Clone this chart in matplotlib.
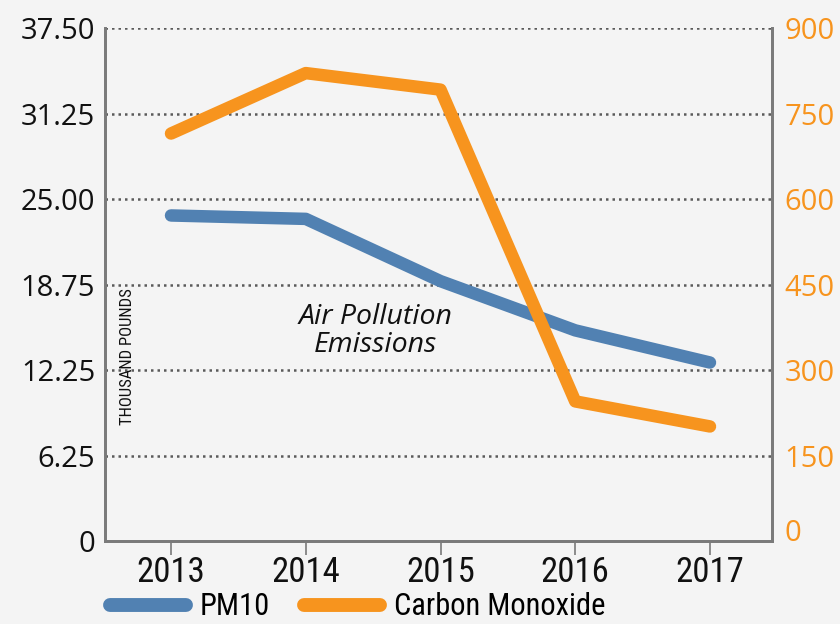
import matplotlib
matplotlib.use("Agg")
import matplotlib.pyplot as plt
from matplotlib.lines import Line2D
from matplotlib import font_manager

years = ["2013", "2014", "2015", "2016", "2017"]
pm10 = [23.8, 23.55, 19.0, 15.4, 13.05]
carbon_monoxide = [715, 821, 792, 245, 201]

left_ticks = [0, 6.25, 12.5, 18.75, 25.0, 31.25, 37.5]
left_labels = ["0", "6.25", "12.25", "18.75", "25.00", "31.25", "37.50"]
right_ticks = [0, 150, 300, 450, 600, 750, 900]
right_labels = ["0", "150", "300", "450", "600", "750", "900"]

available = {f.name for f in font_manager.fontManager.ttflist}
narrow_candidates = ["Liberation Sans Narrow", "DejaVu Sans Condensed",
                     "Roboto Condensed", "Open Sans Condensed"]
NARROW = None
for c in narrow_candidates:
    if c in available:
        NARROW = c
        break
if NARROW is None:
    NARROW = "Roboto"

BG = "#f4f4f4"
BLUE = "#5181b2"
ORANGE = "#f7941e"
SPINE = "#7a7a7a"
GRID = "#5a5a5a"

fig = plt.figure(figsize=(8.4, 6.24), dpi=100, facecolor=BG)
ax = fig.add_axes([0.125, 0.133, 0.794, 0.822])
ax.set_facecolor(BG)
ax2 = ax.twinx()

x = list(range(len(years)))
ax.set_xlim(-0.49, 4.46)
ax.set_ylim(0, 37.5)
ax2.set_ylim(0, 900)

for yv in left_ticks[1:]:
    ax.axhline(yv, color=GRID, linestyle=(0, (1, 1.6)), linewidth=1.8, zorder=1)

ax.plot(x, pm10, color=BLUE, linewidth=9, solid_capstyle="round",
        solid_joinstyle="round", zorder=3)
ax2.plot(x, carbon_monoxide, color=ORANGE, linewidth=9, solid_capstyle="round",
         solid_joinstyle="round", zorder=3)

for a in (ax, ax2):
    a.spines["top"].set_visible(False)
    for s in ("left", "right", "bottom"):
        a.spines[s].set_color(SPINE)
        a.spines[s].set_linewidth(2)

ax.set_yticks(left_ticks)
ax.set_yticklabels(left_labels, fontsize=21, family="Open Sans", color="#111111")
ax.tick_params(axis="y", length=0, pad=7)
ax2.set_yticks(right_ticks)
ax2.set_yticklabels(right_labels, fontsize=21, family="Open Sans", color=ORANGE)
ax2.tick_params(axis="y", length=0, pad=9)
ax2.get_yticklabels()[0].set_va("baseline")

ax.set_xticks(x)
ax.set_xticklabels(years, fontsize=25, family=[NARROW, "DejaVu Sans"],
                   stretch="condensed", color="#111111")
ax.tick_params(axis="x", length=10, width=1.2, color=SPINE, pad=1)

ax.text(0.405, 0.41, "Air Pollution\nEmissions", transform=ax.transAxes,
        ha="center", va="center", fontsize=20.5, style="italic",
        family="Open Sans", linespacing=1.0,
        color="#111111", zorder=4)
ax.text(0.033, 0.226, "THOUSAND POUNDS", transform=ax.transAxes, rotation=90,
        ha="center", va="bottom", fontsize=12, stretch="condensed",
        family=[NARROW, "DejaVu Sans"], color="#111111")

handles = [Line2D([0], [0], color=BLUE, linewidth=10, solid_capstyle="round"),
           Line2D([0], [0], color=ORANGE, linewidth=10, solid_capstyle="round")]
fig.legend(handles, ["PM10", "Carbon Monoxide"], loc="lower left",
           bbox_to_anchor=(0.098, -0.04), ncol=2, frameon=False,
           prop={"family": [NARROW, "DejaVu Sans"], "size": 22, "stretch": "condensed"},
           handlelength=2.5, handletextpad=0.45, columnspacing=1.1)

fig.savefig("out.png", dpi=100, facecolor=BG)
